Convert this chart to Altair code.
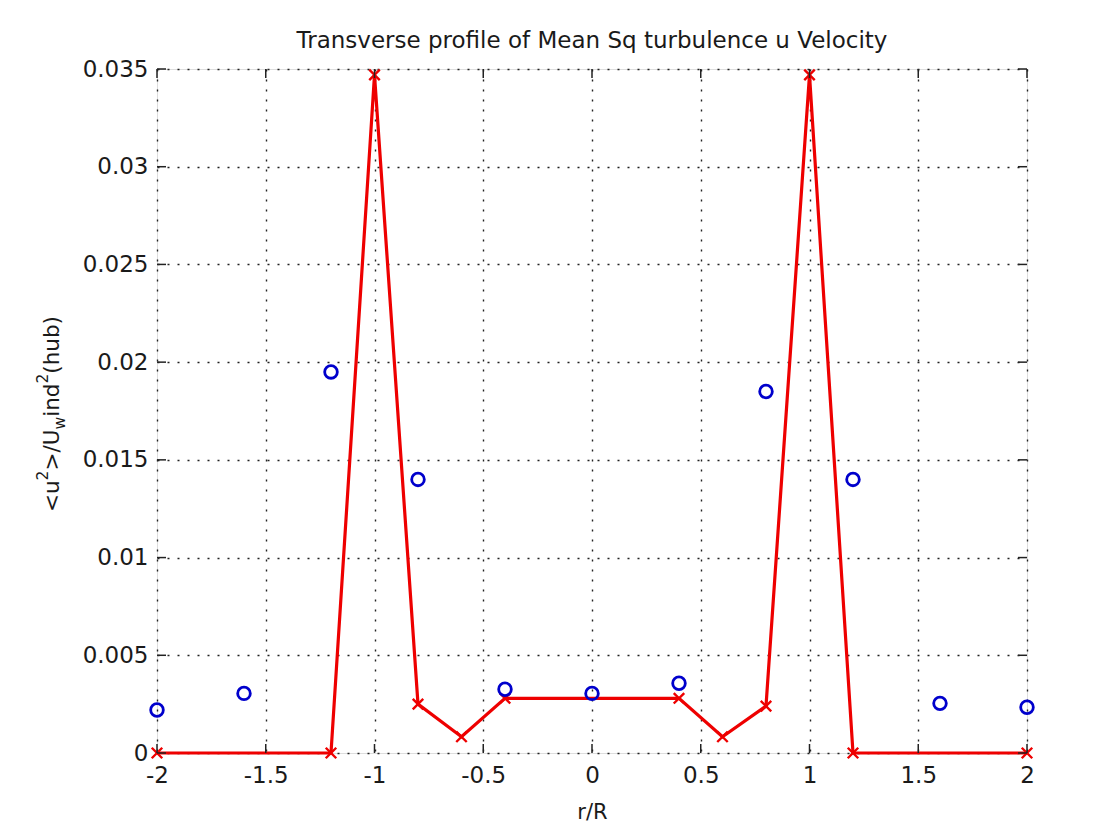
import altair as alt
import pandas as pd

title_text = "Transverse profile of Mean Sq turbulence u Velocity"
x_title = "r/R"

# red line with x markers
line_x = [-2.0, -1.2, -1.0, -0.8, -0.6, -0.4, 0.4, 0.6, 0.8, 1.0, 1.2, 2.0]
line_y = [0.0, 0.0, 0.0347, 0.0025, 0.00083, 0.0028, 0.0028, 0.00083, 0.0024, 0.0347, 0.0, 0.0]

# blue circles
circ_x = [-2.0, -1.6, -1.2, -0.8, -0.4, 0.0, 0.4, 0.8, 1.2, 1.6, 2.0]
circ_y = [0.0022, 0.00305, 0.0195, 0.0140, 0.00326, 0.00305, 0.00357, 0.0185, 0.0140, 0.00254, 0.00234]

x_ticks = [-2, -1.5, -1, -0.5, 0, 0.5, 1, 1.5, 2]
y_ticks = [0, 0.005, 0.01, 0.015, 0.02, 0.025, 0.03, 0.035]

# y-axis title pieces: kind n=normal, sup=superscript, sub=subscript
ytitle_parts = ["<u", "2", ">/U", "w", "ind", "2", "(hub)"]
ytitle_kinds = ["n", "sup", "n", "sub", "n", "sup", "n"]

W, H = 870, 684
FONT = "DejaVu Sans"
TXT = "#1a1a1a"

# approximate DejaVu Sans advance widths (em) for laying out the title pieces
ADV = {"<": .838, ">": .838, "u": .634, "/": .337, "U": .732, "w": .818,
       "i": .278, "n": .634, "d": .635, "2": .636, "(": .39, ")": .39,
       "h": .634, "b": .635}

line_df = pd.DataFrame({"x": line_x, "y": line_y, "o": range(len(line_x))})
circ_df = pd.DataFrame({"x": circ_x, "y": circ_y})
xt_df = pd.DataFrame({"x": x_ticks})
yt_df = pd.DataFrame({"y": y_ticks})

xscale = alt.Scale(domain=[-2, 2], nice=False, zero=False)
yscale = alt.Scale(domain=[0, 0.035], nice=False, zero=False)

grid_kw = dict(grid=True, gridColor="#222", gridDash=[2, 8], gridWidth=1.4,
               ticks=False, domain=False, labelFont=FONT, labelFontSize=23,
               labelColor=TXT, titleFont=FONT, titleFontSize=21,
               titleColor=TXT, titleFontWeight="normal", labelFlush=False,
               labelOverlap=False)

xaxis = alt.Axis(values=x_ticks, labelExpr="datum.value + ''", labelPadding=11,
                 title=x_title, titlePadding=14, **grid_kw)
yaxis = alt.Axis(values=y_ticks, labelExpr="datum.value + ''", labelPadding=9,
                 title="", **grid_kw)

base_x = alt.X("x:Q", scale=xscale, axis=xaxis)
base_y = alt.Y("y:Q", scale=yscale, axis=yaxis)

axes_layer = alt.Chart(circ_df).mark_point(opacity=0).encode(x=base_x, y=base_y)

red_line = alt.Chart(line_df).mark_line(color="#ee0000", strokeWidth=3.2).encode(
    x=alt.X("x:Q", scale=xscale), y=alt.Y("y:Q", scale=yscale), order="o:Q")
red_x = alt.Chart(line_df).mark_point(
    shape="M-1,-1L1,1M-1,1L1,-1", size=110, strokeWidth=2.4, color="#ee0000",
    filled=False, opacity=1).encode(
    x=alt.X("x:Q", scale=xscale), y=alt.Y("y:Q", scale=yscale))
circles = alt.Chart(circ_df).mark_point(
    shape="circle", size=160, strokeWidth=2.8, color="#0000cc", filled=False,
    opacity=1).encode(x=alt.X("x:Q", scale=xscale), y=alt.Y("y:Q", scale=yscale))

TL = 9
tick_color = "#222"
yt_left = alt.Chart(yt_df).mark_rule(color=tick_color, strokeWidth=1.5).encode(
    y=alt.Y("y:Q", scale=yscale), x=alt.value(0), x2=alt.value(TL))
yt_right = alt.Chart(yt_df).mark_rule(color=tick_color, strokeWidth=1.5).encode(
    y=alt.Y("y:Q", scale=yscale), x=alt.value(W - TL), x2=alt.value(W))
xt_bot = alt.Chart(xt_df).mark_rule(color=tick_color, strokeWidth=1.5).encode(
    x=alt.X("x:Q", scale=xscale), y=alt.value(H - TL), y2=alt.value(H))
xt_top = alt.Chart(xt_df).mark_rule(color=tick_color, strokeWidth=1.5).encode(
    x=alt.X("x:Q", scale=xscale), y=alt.value(0), y2=alt.value(TL))

# y title built from pieces (rotated, reading upward), laid out sequentially
FS_N, FS_S = 21.5, 15.5
pos = 443.0
yt_layers = []
for txt, kind in zip(ytitle_parts, ytitle_kinds):
    if kind == "n":
        xo, fs = -98, FS_N
    elif kind == "sup":
        xo, fs = -109, FS_S
    else:
        xo, fs = -92, FS_S
    yt_layers.append(
        alt.Chart(pd.DataFrame({"t": [txt]})).mark_text(
            angle=270, align="left", baseline="alphabetic", font=FONT,
            fontSize=fs, color=TXT).encode(
            text="t:N", x=alt.value(xo), y=alt.value(round(pos, 1))))
    pos -= sum(ADV.get(c, .6) for c in txt) * fs

chart = alt.layer(axes_layer, red_line, red_x, circles,
                  yt_left, yt_right, xt_bot, xt_top, *yt_layers).properties(
    width=W, height=H,
    title=alt.TitleParams(title_text, font=FONT, fontSize=23, fontWeight="normal",
                          color=TXT, anchor="middle", offset=5),
    autosize=alt.AutoSizeParams(type="none"),
    padding={"left": 149, "top": 61, "right": 81, "bottom": 79},
).configure_view(stroke="#222", strokeWidth=1.6).configure(background="white")

chart.save("out.html", embed_options={"renderer": "svg", "actions": False})
